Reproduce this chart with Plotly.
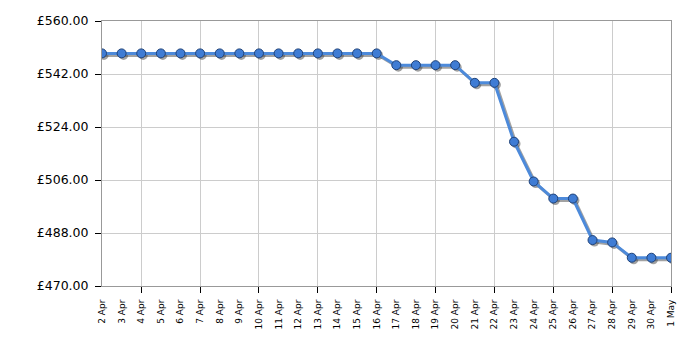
import plotly.graph_objects as go
import pandas as pd

dates = ["2024-04-%02d" % d for d in range(2, 31)] + ["2024-05-01"]
tick_labels = ["%d Apr" % d for d in range(2, 31)] + ["1 May"]
prices = [549.0] * 15 + [545.0] * 4 + [539.0, 539.0, 519.0, 505.5, 499.7, 499.7,
                                       485.6, 484.8, 479.6, 479.6, 479.6]
y_ticks = [470, 488, 506, 524, 542, 560]
grid_dates = ["2024-04-04", "2024-04-07", "2024-04-10", "2024-04-13", "2024-04-16",
              "2024-04-19", "2024-04-22", "2024-04-25", "2024-04-28", "2024-05-01"]

L, R, T, B = 102, 29, 21, 64
W, H = 700, 350
pw, ph = W - L - R, H - T - B

d0, d1 = pd.Timestamp(dates[0]), pd.Timestamp(dates[-1])
span = d1 - d0
dx, dy = 2 / pw, 2 / ph
ymin, ymax = 470, 560

fig = go.Figure()
fig.add_trace(go.Scatter(x=dates, y=prices, mode="lines", line=dict(width=0),
                         opacity=0, hoverinfo="skip", showlegend=False))
fig.add_trace(go.Scatter(x=dates, y=prices, mode="lines+markers", xaxis="x2", yaxis="y2",
                         line=dict(color="rgba(70,70,70,0.5)", width=3),
                         marker=dict(size=9, color="rgba(70,70,70,0.5)"),
                         hoverinfo="skip", showlegend=False))
fig.add_trace(go.Scatter(x=dates, y=prices, mode="lines+markers", xaxis="x3", yaxis="y3",
                         line=dict(color="#4d8ada", width=3),
                         marker=dict(size=9, color="#3f7cd4", line=dict(color="#1f4278", width=1)),
                         showlegend=False))

fig.update_layout(
    width=W, height=H,
    margin=dict(l=L, r=R, t=T, b=B),
    paper_bgcolor="white", plot_bgcolor="white",
    font=dict(family="DejaVu Sans", color="black"),
    xaxis=dict(type="date", range=[dates[0], dates[-1]],
               tickvals=dates, ticktext=tick_labels, tickangle=-90,
               tickfont=dict(size=9), ticks="outside", ticklen=6,
               tickcolor="rgba(0,0,0,0)", ticklabelstandoff=3, showgrid=False,
               showline=True, linecolor="#999999", linewidth=1, mirror=True,
               zeroline=False,
               minor=dict(tickvals=grid_dates, showgrid=True, gridcolor="#cccccc",
                          ticks="outside", ticklen=6, tickcolor="black", tickwidth=1)),
    yaxis=dict(range=[ymin, ymax], tickvals=y_ticks,
               ticktext=["£%.2f" % v for v in y_ticks],
               tickfont=dict(size=12.5), ticks="outside", ticklen=6, tickcolor="black",
               ticklabelstandoff=4,
               showgrid=True, gridcolor="#cccccc", showline=True, linecolor="#999999",
               linewidth=1, mirror=True, zeroline=False),
    xaxis2=dict(type="date", overlaying="x", visible=False, anchor="y2",
                range=[str(d0 - span * dx), str(d1 - span * dx)]),
    yaxis2=dict(overlaying="y", visible=False, anchor="x2",
                range=[ymin + (ymax - ymin) * dy, ymax + (ymax - ymin) * dy]),
    xaxis3=dict(type="date", overlaying="x", visible=False, anchor="y3",
                range=[dates[0], dates[-1]]),
    yaxis3=dict(overlaying="y", visible=False, anchor="x3", range=[ymin, ymax]),
)

fig.write_html("out.html")
